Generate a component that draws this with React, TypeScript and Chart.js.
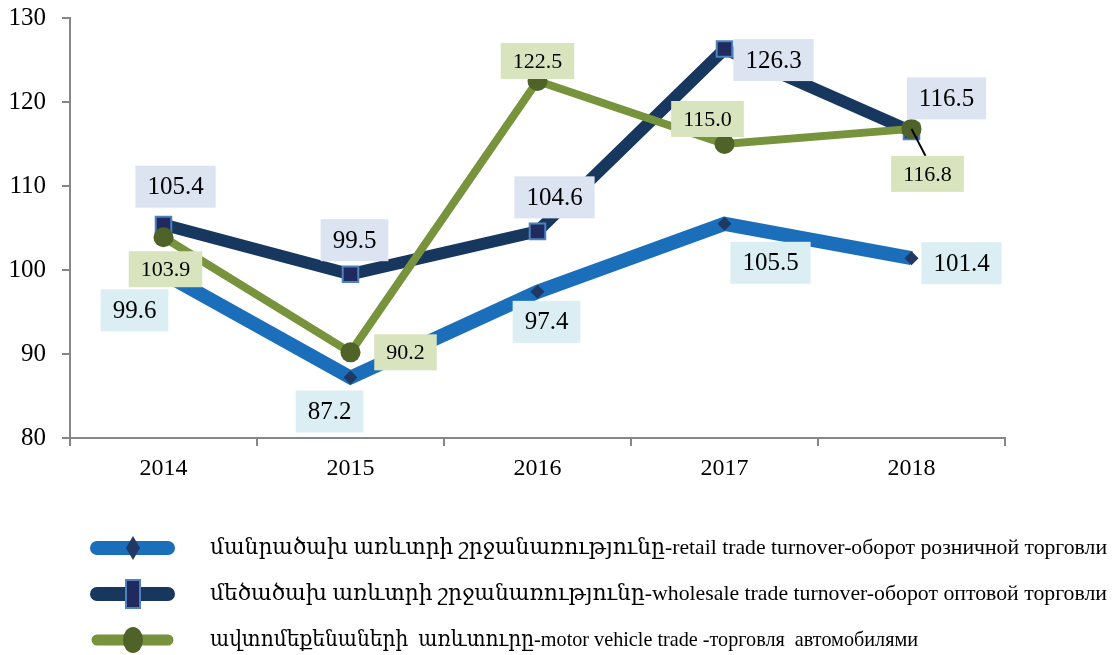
import React, { useEffect, useRef } from "react";
import { Chart, registerables } from "chart.js";

Chart.register(...registerables);

const years = ["2014", "2015", "2016", "2017", "2018"];
const retail = [99.6, 87.2, 97.4, 105.5, 101.4];
const wholesale = [105.4, 99.5, 104.6, 126.3, 116.5];
const motor = [103.9, 90.2, 122.5, 115.0, 116.8];
const yTicks = [80, 90, 100, 110, 120, 130];

const legendTexts = [
  "մանրածախ առևտրի շրջանառությունը-retail trade turnover-оборот розничной торговли",
  "մեծածախ առևտրի շրջանառությունը-wholesale trade turnover-оборот оптовой торговли",
  "ավտոմեքենաների  առևտուրը-motor vehicle trade -торговля  автомобилями",
];

const FONT = "'Liberation Serif', 'DejaVu Serif', 'Times New Roman', serif";

// label placement offsets (center of box relative to point), per dataset
const labelStyles = [
  {
    bg: "#DAEEF3",
    size: 25,
    h: 42,
    offsets: [[-29, 37], [-21, 34], [9, 30], [46, 39], [50, 5]],
  },
  {
    bg: "#DCE3F1",
    size: 25,
    h: 42,
    offsets: [[12, -38], [4, -34], [17, -34], [49, 11], [35, -33]],
  },
  {
    bg: "#D7E4BD",
    size: 22,
    h: 36,
    offsets: [[2, 32], [55, 0], [0, -20], [-17, -25], [16, 45]],
  },
];

const labelPlugin = {
  id: "boxLabels",
  afterDatasetsDraw(chart: any) {
    const ctx = chart.ctx;
    ctx.save();
    chart.data.datasets.forEach((ds: any, di: number) => {
      const meta = chart.getDatasetMeta(di);
      const st = labelStyles[di];
      meta.data.forEach((pt: any, i: number) => {
        const v = ds.data[i] as number;
        const txt = v.toFixed(1);
        const [dx, dy] = st.offsets[i];
        const cx = pt.x + dx;
        const cy = pt.y + dy;
        ctx.font = `${st.size}px ${FONT}`;
        const w = ctx.measureText(txt).width + 24;
        if (di === 2 && i === 4) {
          ctx.strokeStyle = "#000";
          ctx.lineWidth = 2;
          ctx.beginPath();
          ctx.moveTo(pt.x, pt.y);
          ctx.lineTo(cx - 2, cy - st.h / 2);
          ctx.stroke();
        }
        ctx.fillStyle = st.bg;
        ctx.fillRect(cx - w / 2, cy - st.h / 2, w, st.h);
        ctx.fillStyle = "#000";
        ctx.textAlign = "center";
        ctx.textBaseline = "middle";
        ctx.fillText(txt, cx, cy + 1);
      });
    });
    ctx.restore();
  },
};

const legendPlugin = {
  id: "customLegend",
  afterDraw(chart: any) {
    const ctx = chart.ctx;
    const rows = [548, 594, 640];
    const lineColors = ["#1B6FBA", "#17375E", "#77933C"];
    ctx.save();
    rows.forEach((y, i) => {
      ctx.strokeStyle = lineColors[i];
      ctx.lineCap = "round";
      ctx.lineWidth = i === 2 ? 11 : 14;
      ctx.beginPath();
      ctx.moveTo(97, y);
      ctx.lineTo(168, y);
      ctx.stroke();
      const mx = 133;
      if (i === 0) {
        ctx.fillStyle = "#1F3864";
        ctx.beginPath();
        ctx.moveTo(mx, y - 12);
        ctx.lineTo(mx + 7, y);
        ctx.lineTo(mx, y + 12);
        ctx.lineTo(mx - 7, y);
        ctx.closePath();
        ctx.fill();
      } else if (i === 1) {
        ctx.fillStyle = "#1F2A5E";
        ctx.strokeStyle = "#4F81BD";
        ctx.lineWidth = 2;
        ctx.fillRect(mx - 7, y - 14, 14, 28);
        ctx.strokeRect(mx - 7, y - 14, 14, 28);
      } else {
        ctx.fillStyle = "#4F6228";
        ctx.beginPath();
        ctx.ellipse(mx, y, 10, 13, 0, 0, Math.PI * 2);
        ctx.fill();
      }
      ctx.fillStyle = "#000";
      ctx.font = `22px ${FONT}`;
      ctx.textAlign = "left";
      ctx.textBaseline = "middle";
      ctx.fillText(legendTexts[i], 210, y, i === 2 ? 708 : 897);
    });
    ctx.restore();
  },
};

export default function App() {
  const ref = useRef<HTMLCanvasElement | null>(null);
  useEffect(() => {
    if (!ref.current) return;
    const chart = new Chart(ref.current, {
      type: "line",
      data: {
        labels: years,
        datasets: [
          {
            label: "retail",
            data: retail,
            borderColor: "#1B6FBA",
            borderWidth: 14,
            pointStyle: "rectRot",
            pointRadius: 7,
            pointBackgroundColor: "#1F3864",
            pointBorderColor: "#1F3864",
            pointBorderWidth: 0,
            order: 3,
            tension: 0,
          },
          {
            label: "wholesale",
            data: wholesale,
            borderColor: "#17375E",
            borderWidth: 12,
            pointStyle: "rect",
            pointRadius: 11,
            pointBackgroundColor: "#1F2A5E",
            pointBorderColor: "#4F81BD",
            pointBorderWidth: 2,
            order: 2,
            tension: 0,
          },
          {
            label: "motor",
            data: motor,
            borderColor: "#77933C",
            borderWidth: 8,
            pointStyle: "circle",
            pointRadius: 10,
            pointBackgroundColor: "#4F6228",
            pointBorderColor: "#4F6228",
            pointBorderWidth: 0,
            order: 1,
            tension: 0,
          },
        ],
      },
      options: {
        animation: false,
        responsive: true,
        maintainAspectRatio: false,
        layout: { padding: { top: 18, right: 110, left: 0, bottom: 0 } },
        plugins: { legend: { display: false }, tooltip: { enabled: false } },
        scales: {
          x: {
            offset: true,
            grid: {
              display: true,
              drawOnChartArea: false,
              drawTicks: true,
              tickLength: 8,
              color: "#868686",
              lineWidth: 2,
              offset: true,
            },
            border: { color: "#868686", width: 2 },
            ticks: { color: "#000", font: { family: FONT, size: 24 }, padding: 8 },
            afterFit: (s: any) => {
              s.height = 217;
            },
          },
          y: {
            min: 80,
            max: 130,
            afterBuildTicks: (s: any) => {
              s.ticks = yTicks.map((v) => ({ value: v }));
            },
            grid: {
              display: true,
              drawOnChartArea: false,
              drawTicks: true,
              tickLength: 8,
              color: "#868686",
              lineWidth: 2,
            },
            border: { color: "#868686", width: 2 },
            ticks: { color: "#000", font: { family: FONT, size: 25 }, padding: 16 },
            afterFit: (s: any) => {
              s.width = 70;
              s.paddingTop = 0;
              s.paddingBottom = 0;
            },
          },
        },
      },
      plugins: [labelPlugin, legendPlugin],
    });
    return () => chart.destroy();
  }, []);
  return (
    <div style={{ position: "absolute", left: 0, top: 0, width: 1115, height: 655 }}>
      <canvas ref={ref} />
    </div>
  );
}
